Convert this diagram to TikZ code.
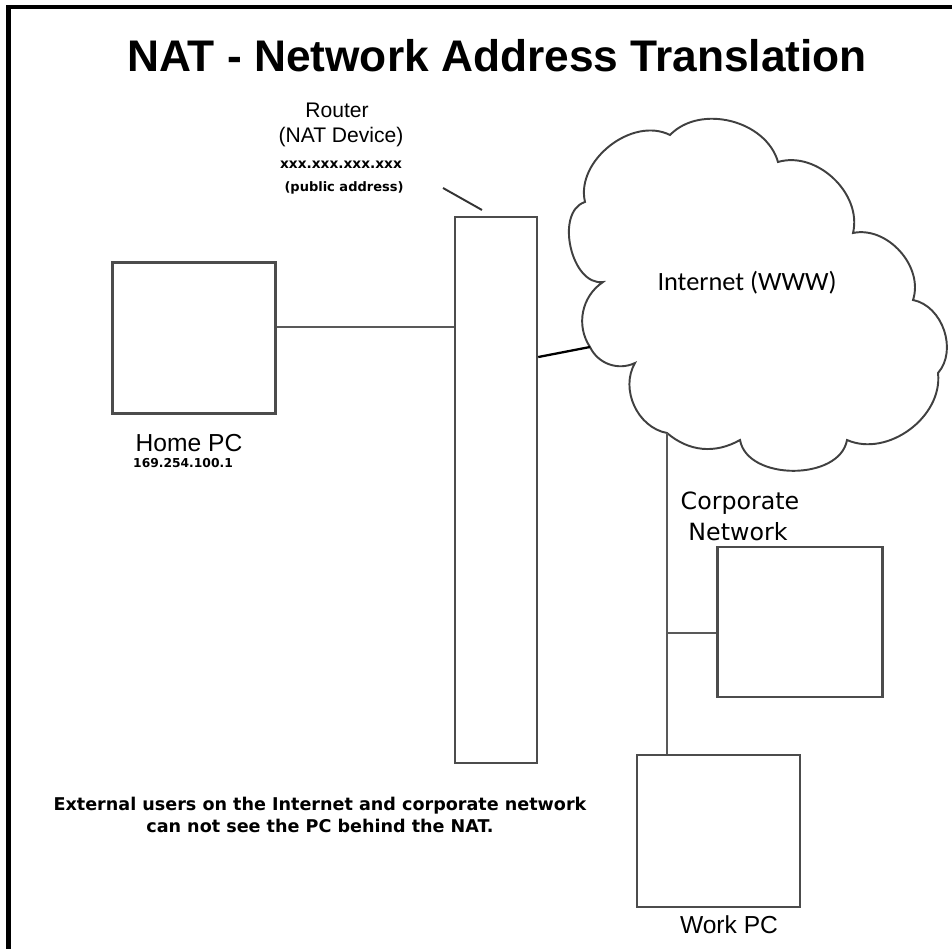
\documentclass[tikz,border=0pt]{standalone}
\usepackage{fontspec}
\setmainfont{Liberation Sans}
\newfontfamily\verdfont{DejaVu Sans}
\newfontfamily\cloudfont{Carlito}

\tikzset{
	pcbox/.style={draw=black!70,line width=1.4pt,inner sep=0pt,fill=white},
	wire/.style={draw=black!65,line width=1.1pt},
	cloudline/.style={draw=black!75,line width=1.1pt},
	lbl/.style={inner sep=0pt}
}

\begin{document}
\begin{tikzpicture}[x=0.02cm,y=-0.02cm]
	\useasboundingbox (0,0) rectangle (952,949);
	\draw[line width=2.3pt] (952,7)--(8.5,7)--(8.5,949); %frame, top and left only
	
	\node[lbl,font=\bfseries\fontsize{25.2}{30}\selectfont] (title) at (497,56) {NAT - Network Address Translation};
	
	\node[pcbox,minimum width=1.64cm,minimum height=10.92cm] (router) at (496,490) {};
	\node[pcbox,minimum width=3.26cm,minimum height=3.02cm] (home) at (194,338) {};
	\node[pcbox,minimum width=3.3cm,minimum height=3cm] (corp) at (800,622) {};
	\node[pcbox,minimum width=3.26cm,minimum height=3.04cm] (work) at (718.5,831) {};
	
	%cloud outline, cusps go round clockwise
	\foreach \x/\y [count=\i from 0] in {590/347,603/282,585/202,670/135,778/162,853/233,913/300,938/373,847/440,740/440,667/433,635/363}
		\coordinate (c\i) at (\x,\y);
	\draw[cloudline,fill=white] (c0) to[bend left=45] (c1) to[bend left=85] (c2) to[bend left=65] (c3)
		to[bend left=60] (c4) to[bend left=60] (c5) to[bend left=60] (c6) to[bend left=60] (c7)
		to[bend left=60] (c8) to[bend left=80] (c9) to[bend left=35] (c10) to[bend left=55] (c11)
		to[bend left=45] (c0);
	\node[lbl,font=\cloudfont\fontsize{15}{18}\selectfont] (www) at (747,283) {Internet (WWW)};
	
	%router labels
	\node[lbl,font=\fontsize{12}{14}\selectfont] (rtr) at (337,110) {Router};
	\node[lbl,font=\fontsize{12}{14}\selectfont] (natdev) at (341,137) {(NAT Device)};
	\node[lbl,font=\verdfont\bfseries\fontsize{7.8}{9}\selectfont] (pubip) at (341,165) {xxx.xxx.xxx.xxx};
	\node[lbl,font=\verdfont\bfseries\fontsize{7.4}{9}\selectfont] (pubtxt) at (344,188) {(public address)};
	\coordinate (leadA) at (443,188);
	\coordinate (leadB) at (482,210);
	\draw[wire,black!80] (leadA)--(leadB);
	
	\node[lbl,font=\fontsize{14}{17}\selectfont] (homelbl) at (189,443) {Home PC};
	\node[lbl,font=\verdfont\bfseries\fontsize{7}{9}\selectfont] (homeip) at (183,463) {169.254.100.1};
	\node[lbl,font=\verdfont\fontsize{13.5}{16}\selectfont] (corplbl1) at (740,503) {Corporate};
	\node[lbl,font=\verdfont\fontsize{13.5}{16}\selectfont] (corplbl2) at (738,532) {Network};
	\node[lbl,font=\fontsize{14}{17}\selectfont] (worklbl) at (729,925) {Work PC};
	
	\node[lbl,font=\verdfont\bfseries\fontsize{10}{13}\selectfont,align=center] (note) at (320,815)
		{External users on the Internet and corporate network\\can not see the PC behind the NAT.};
	
	%links
	\draw[wire] ([yshift=0.22cm]home.east)--([yshift=0.22cm]home.east -| router.west);
	\draw[wire,black,line width=1.3pt] ([yshift=2.66cm]router.east)--(c0);
	\draw[wire] (c10)--(c10 |- work.north);
	\draw[wire] ([yshift=-0.22cm]corp.west)--([yshift=-0.22cm]corp.west -| c10);
\end{tikzpicture}
\end{document}
